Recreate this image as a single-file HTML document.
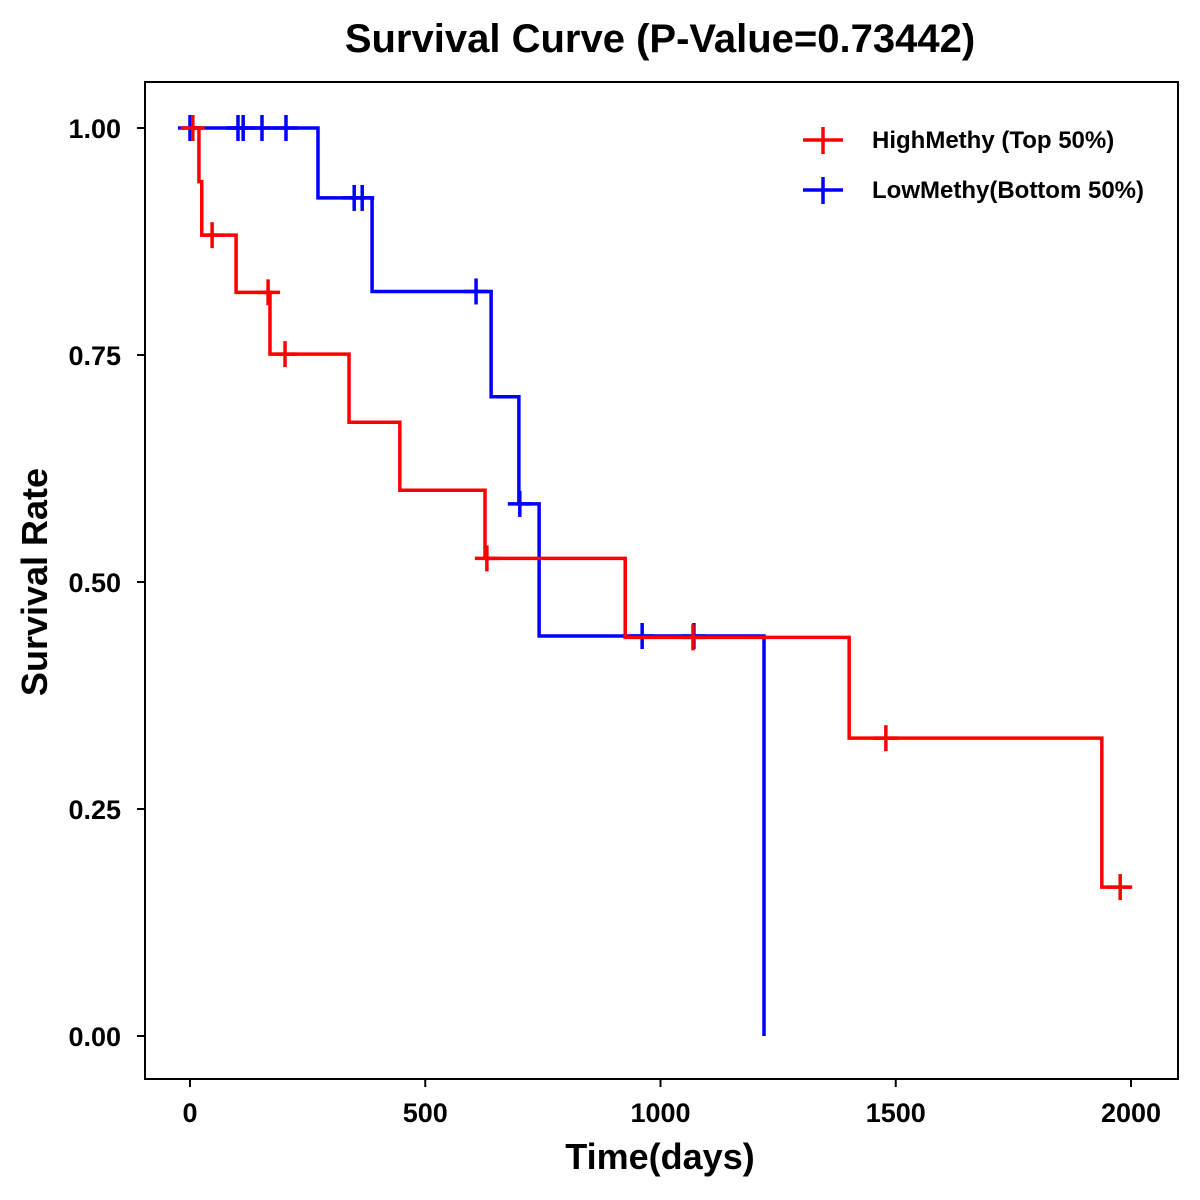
<!DOCTYPE html>
<html><head><meta charset="utf-8"><style>
html,body{margin:0;padding:0;background:#fff;}
svg{display:block;font-family:"Liberation Sans",Arial,sans-serif;font-weight:bold;}
</style></head><body>
<svg id="chart" width="1200" height="1200" viewBox="0 0 1200 1200">
<text x="660" y="52" text-anchor="middle" font-size="40">Survival Curve (P-Value=0.73442)</text>
<rect x="145" y="82" width="1033" height="997" fill="none" stroke="#000" stroke-width="2"/>
<g id="axes"></g>
<g id="series"></g>
<g>
 <g>
  <line x1="803" y1="140" x2="843" y2="140" stroke="#f00" stroke-width="3.5"/>
  <line x1="823" y1="127" x2="823" y2="154" stroke="#f00" stroke-width="3.5"/>
  <text x="872" y="148" font-size="24">HighMethy (Top 50%)</text>
 </g>
 <g>
  <line x1="803" y1="190" x2="843" y2="190" stroke="#00f" stroke-width="3.5"/>
  <line x1="823" y1="177" x2="823" y2="204" stroke="#00f" stroke-width="3.5"/>
  <text x="872" y="198" font-size="24">LowMethy(Bottom 50%)</text>
 </g>
</g>
<text x="660" y="1169" text-anchor="middle" font-size="36">Time(days)</text>
<text transform="translate(47,582) rotate(-90)" text-anchor="middle" font-size="36">Survival Rate</text>
</svg>
<script>
const xTicks=[0,500,1000,1500,2000];
const yTicks=[0,0.25,0.5,0.75,1];
const yTickLabels=["0.00","0.25","0.50","0.75","1.00"];
const highTimes=[0,19,25,98,170,338,446,627,925,1401,1938];
const highSurv=[1,0.941,0.882,0.819,0.751,0.676,0.601,0.526,0.439,0.328,0.164];
const highEnd=1998;
const highCensor=[6,47,166,202,631,1069,1479,1977];
const lowTimes=[0,272,387,640,699,742,1220];
const lowSurv=[1,0.923,0.820,0.704,0.586,0.4405,0];
const lowEnd=1220;
const lowCensor=[0,102,113,153,204,349,366,608,701,961,1071];

const X=t=>190+t*0.4705;
const Y=s=>1036-908*s;
const NS="http://www.w3.org/2000/svg";
function mk(tag,attrs,parent){const e=document.createElementNS(NS,tag);for(const k in attrs)e.setAttribute(k,attrs[k]);parent.appendChild(e);return e;}
const axes=document.getElementById('axes');
xTicks.forEach(v=>{
 const l=mk('line',{x1:X(v),x2:X(v),y1:1079,y2:1087,stroke:'#000','stroke-width':2},axes);
 
 
 const t=mk('text',{x:X(v),y:1122,'text-anchor':'middle','font-size':27},axes);
 t.textContent=v;
 
 
});
yTicks.forEach((v,i)=>{
 const l=mk('line',{x1:137,x2:145,y1:Y(v),y2:Y(v),stroke:'#000','stroke-width':2},axes);
 
 
 const t=mk('text',{x:121,y:Y(v)+10,'text-anchor':'end','font-size':27},axes);
 t.textContent=yTickLabels[i];
 
 
});
const series=document.getElementById('series');
function survAt(times,surv,t){let s=surv[0];for(let i=0;i<times.length;i++){if(times[i]<=t)s=surv[i];}return s;}
function draw(times,surv,end,cens,color,name){
 let d='M'+X(times[0])+','+Y(surv[0]);
 for(let i=1;i<times.length;i++){d+=' H'+X(times[i])+' V'+Y(surv[i]);}
 if(end>times[times.length-1])d+=' H'+X(end);
 const p=mk('path',{d:d,fill:'none',stroke:color,'stroke-width':3.5},series);
 
 
 cens.forEach(c=>{
  const s=survAt(times,surv,c);
  const g=mk('g',{stroke:color,'stroke-width':3.5},series);
  
  
  mk('line',{x1:X(c)-12,x2:X(c)+12,y1:Y(s),y2:Y(s)},g);
  mk('line',{x1:X(c),x2:X(c),y1:Y(s)-13,y2:Y(s)+13},g);
 });
}
draw(lowTimes,lowSurv,lowEnd,lowCensor,'#00f','low-methy');
draw(highTimes,highSurv,highEnd,highCensor,'#f00','high-methy');
</script>
</body></html>
